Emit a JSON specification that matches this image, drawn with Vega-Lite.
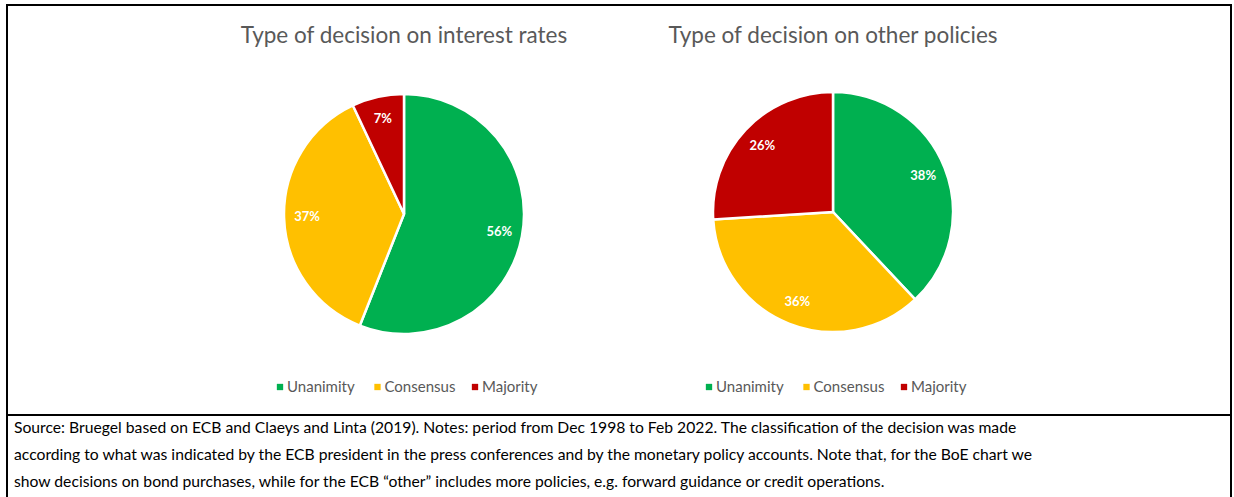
{
  "$schema": "https://vega.github.io/schema/vega-lite/v6.json",
  "width": 1234,
  "height": 497,
  "autosize": {"type": "fit", "contains": "padding"},
  "padding": {"left": 6, "top": 5, "right": 2, "bottom": -3},
  "background": "white",
  "config": {
    "view": {"stroke": "black", "strokeWidth": 2},
    "font": "Lato"
  },
  "datasets": {
    "pies": [
      {"chart": "rates", "category": "Unanimity", "rank": 1, "share": 0.56},
      {"chart": "rates", "category": "Consensus", "rank": 2, "share": 0.37},
      {"chart": "rates", "category": "Majority", "rank": 3, "share": 0.07},
      {"chart": "other", "category": "Unanimity", "rank": 1, "share": 0.38},
      {"chart": "other", "category": "Consensus", "rank": 2, "share": 0.36},
      {"chart": "other", "category": "Majority", "rank": 3, "share": 0.26}
    ],
    "titles": [
      {"chart": "rates", "title": "Type of decision on interest rates"},
      {"chart": "other", "title": "Type of decision on other policies"}
    ]
  },
  "layer": [
    {
      "data": {"name": "pies"},
      "transform": [{"filter": "datum.chart === 'rates'"}],
      "encoding": {
        "x": {"field": "chart", "type": "nominal", "axis": null, "scale": {"type": "point", "domain": ["rates", "other"], "range": [397, 826], "padding": 0}},
        "y": {"value": 209},
        "theta": {"field": "share", "type": "quantitative", "stack": true, "scale": {"domain": [0, 1]}},
        "order": {"field": "rank", "type": "ordinal"}
      },
      "layer": [
        {
          "mark": {"type": "arc", "outerRadius": 120, "stroke": "white", "strokeWidth": 2.5},
          "encoding": {
            "color": {"field": "category", "type": "nominal", "legend": null, "scale": {"domain": ["Unanimity", "Consensus", "Majority"], "range": ["#00B050", "#FFC000", "#C00000"]}}
          }
        },
        {
          "mark": {"type": "text", "radius": 97, "fill": "white", "fontWeight": "bold", "fontSize": 13, "align": "center", "baseline": "middle"},
          "encoding": {"text": {"field": "share", "type": "quantitative", "format": ".0%"}}
        }
      ]
    },
    {
      "data": {"name": "pies"},
      "transform": [{"filter": "datum.chart === 'other'"}],
      "encoding": {
        "x": {"field": "chart", "type": "nominal", "axis": null, "scale": {"type": "point", "domain": ["rates", "other"], "range": [397, 826], "padding": 0}},
        "y": {"value": 207},
        "theta": {"field": "share", "type": "quantitative", "stack": true, "scale": {"domain": [0, 1]}},
        "order": {"field": "rank", "type": "ordinal"}
      },
      "layer": [
        {
          "mark": {"type": "arc", "outerRadius": 120, "stroke": "white", "strokeWidth": 2.5},
          "encoding": {
            "color": {"field": "category", "type": "nominal", "legend": null, "scale": {"domain": ["Unanimity", "Consensus", "Majority"], "range": ["#00B050", "#FFC000", "#C00000"]}}
          }
        },
        {
          "mark": {"type": "text", "radius": 97, "fill": "white", "fontWeight": "bold", "fontSize": 13, "align": "center", "baseline": "middle"},
          "encoding": {"text": {"field": "share", "type": "quantitative", "format": ".0%"}}
        }
      ]
    },
    {
      "data": {"name": "pies"},
      "encoding": {
        "x": {"field": "chart", "type": "nominal", "axis": null, "scale": {"type": "point", "domain": ["rates", "other"], "range": [397, 826], "padding": 0}},
        "xOffset": {"field": "category", "type": "nominal", "scale": {"type": "point", "domain": ["Unanimity", "Consensus", "Majority"], "range": [-124, 71], "padding": 0}},
        "y": {"value": 382}
      },
      "layer": [
        {
          "mark": {"type": "square", "size": 40, "opacity": 1, "filled": true},
          "encoding": {
            "color": {"field": "category", "type": "nominal", "legend": null, "scale": {"domain": ["Unanimity", "Consensus", "Majority"], "range": ["#00B050", "#FFC000", "#C00000"]}}
          }
        },
        {
          "mark": {"type": "text", "align": "left", "baseline": "middle", "dx": 7, "fontSize": 15, "fill": "#595959"},
          "encoding": {"text": {"field": "category", "type": "nominal"}}
        }
      ]
    },
    {
      "data": {"name": "titles"},
      "mark": {"type": "text", "align": "center", "baseline": "middle", "fontSize": 22.5, "fill": "#595959"},
      "encoding": {
        "x": {"field": "chart", "type": "nominal", "axis": null, "scale": {"type": "point", "domain": ["rates", "other"], "range": [397, 826], "padding": 0}},
        "y": {"value": 31},
        "text": {"field": "title", "type": "nominal"}
      }
    },
    {
      "data": {"values": [{}]},
      "mark": {"type": "rule", "color": "black", "strokeWidth": 2},
      "encoding": {"y": {"value": 410}}
    },
    {
      "data": {"values": [{}]},
      "mark": {
        "type": "text",
        "align": "left",
        "baseline": "middle",
        "fontSize": 15.7,
        "lineHeight": 27,
        "fill": "black",
        "text": [
          "Source: Bruegel based on ECB and Claeys and Linta (2019). Notes: period from Dec 1998 to Feb 2022. The classification of the decision was made",
          "according to what was indicated by the ECB president in the press conferences and by the monetary policy accounts. Note that, for the BoE chart we",
          "show decisions on bond purchases, while for the ECB \u201cother\u201d includes more policies, e.g. forward guidance or credit operations."
        ]
      },
      "encoding": {"x": {"value": 7}, "y": {"value": 423}}
    }
  ]
}
